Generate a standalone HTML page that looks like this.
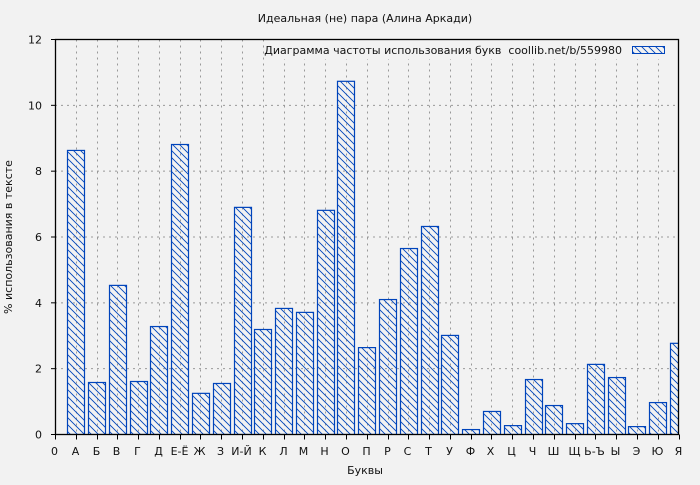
<!DOCTYPE html>
<html><head><meta charset="utf-8"><style>
body{margin:0;background:#f2f2f2}
svg text{font-family:"DejaVu Sans","Liberation Sans",sans-serif;font-size:11px;fill:#111}
</style></head><body>
<svg width="700" height="480" xmlns="http://www.w3.org/2000/svg">
<defs>
<pattern id="h" patternUnits="userSpaceOnUse" width="7" height="7">
<path d="M-1,-1 L8,8 M-8,-1 L1,8 M6,-1 L15,8" stroke="#0044bb" stroke-width="0.9"/>
</pattern>
<clipPath id="c"><rect x="55" y="39" width="623.5" height="395.5"/></clipPath>
</defs>
<rect width="700" height="480" fill="#f2f2f2"/>
<text x="365" y="22" text-anchor="middle">Идеальная (не) пара (Алина Аркади)</text>
<g id="grid" stroke="#999" stroke-dasharray="2,4" stroke-width="1"></g>
<g id="bars" clip-path="url(#c)"></g>
<rect x="273" y="40" width="405" height="19" fill="#f2f2f2"/>
<text x="622" y="54" text-anchor="end" xml:space="preserve" style="white-space:pre">Диаграмма частоты использования букв  coollib.net/b/559980</text>
<rect x="632.5" y="46.5" width="32" height="7" fill="url(#h)" stroke="#0044bb"/>
<g id="axes"></g>
<text x="12" y="237" text-anchor="middle" transform="rotate(-90 12 237)">% использования в тексте</text>
<text x="365" y="474" text-anchor="middle">Буквы</text>
</svg>
<script>
var ns="http://www.w3.org/2000/svg";
function el(p,t,a,tx){var e=document.createElementNS(ns,t);for(var k in a)e.setAttribute(k,a[k]);if(tx)e.textContent=tx;document.getElementById(p).appendChild(e);}
var L=55,R=678.5,B=434.5,T=39.5,st=(R-L)/30,sy=(B-T)/12;
var labs=["0","А","Б","В","Г","Д","Е-Ё","Ж","З","И-Й","К","Л","М","Н","О","П","Р","С","Т","У","Ф","Х","Ц","Ч","Ш","Щ","Ь-Ъ","Ы","Э","Ю","Я"];
var v=[8.63,1.58,4.53,1.61,3.28,8.81,1.25,1.55,6.9,3.19,3.83,3.71,6.81,10.73,2.64,4.1,5.65,6.32,3.01,0.15,0.7,0.27,1.67,0.88,0.33,2.13,1.73,0.24,0.97,2.77];
for(var i=1;i<30;i++){var x=Math.round(L+i*st)+0.5;el("grid","line",{x1:x,x2:x,y1:T,y2:B});}
for(var j=1;j<6;j++){var y=B-j*2*sy;el("grid","line",{x1:L,x2:R,y1:y,y2:y});}
for(var i=0;i<30;i++){var cx=L+(i+1)*st,h=v[i]*sy;el("bars","rect",{x:Math.round(cx-8.5)+0.5,y:B-h,width:17,height:h,fill:"url(#h)",stroke:"#0044bb","stroke-width":1.2});}
el("axes","rect",{x:L+0.5,y:T,width:R-L-0.5,height:B-T,fill:"none",stroke:"#000","stroke-width":1.3});
for(var i=0;i<=30;i++){var x=Math.round(L+i*st)+0.5;el("axes","line",{x1:x,x2:x,y1:B,y2:B+5,stroke:"#000"});el("axes","text",{x:x-1,y:455,"text-anchor":"middle"},labs[i]);}
for(var j=0;j<=6;j++){var y=B-j*2*sy;el("axes","line",{x1:L-4,x2:L,y1:y,y2:y,stroke:"#000"});el("axes","text",{x:42,y:y+4,"text-anchor":"end"},String(j*2));}
</script>
</body></html>
